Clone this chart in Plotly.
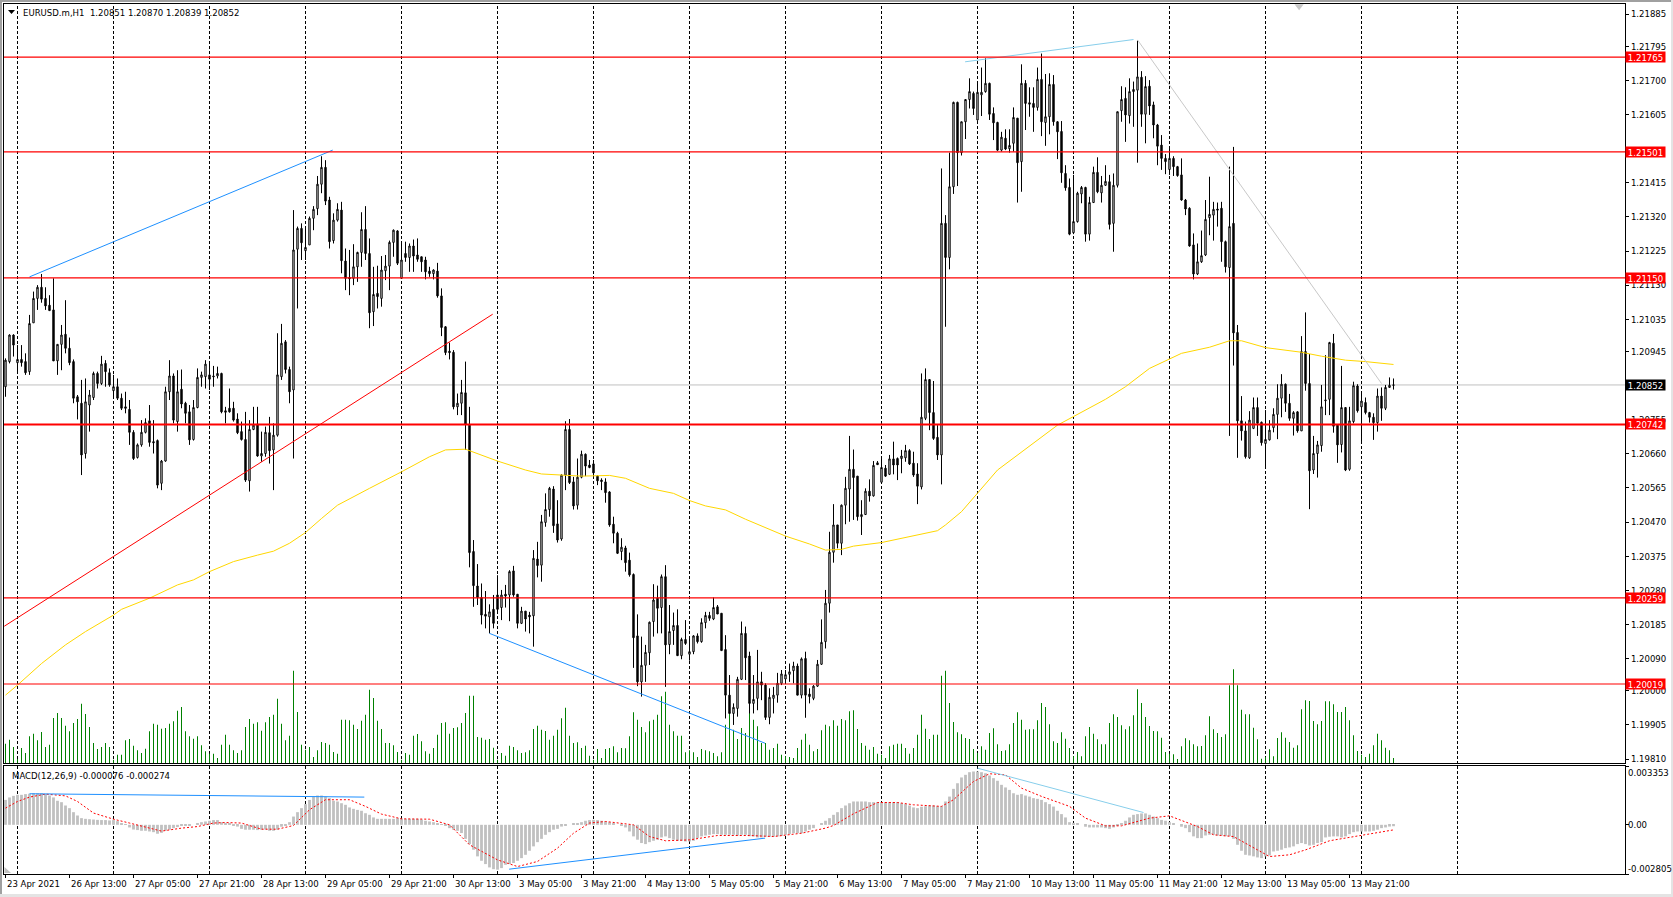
import plotly.graph_objects as go

# EURUSD.m H1 candles, prices in points (1/100000)
opens = [120847,120917,120991,120914,120923,120917,120889,121025,121093,121124,
121093,121074,121061,120919,120965,120993,120954,120917,120819,120801,
120661,120796,120817,120884,120856,120912,120886,120836,120847,120815,
120791,120784,120720,120650,120685,120720,120752,120694,120697,120578,
120640,120833,120877,120750,120840,120801,120777,120700,120789,120873,
120875,120880,120877,120877,120884,120780,120787,120787,120757,120722,
120700,120585,120728,120743,120654,120661,120719,120671,120712,120875,
120972,120895,120838,121230,121288,121226,121242,121316,121343,121411,
121458,121367,121254,121311,121339,121197,121151,121149,121181,121221,
121285,121218,121056,121107,121093,121170,121183,121249,121281,121149,
121218,121207,121239,121214,121209,121200,121169,121162,121169,121100,
121014,120946,120943,120791,120801,120830,120740,120388,120292,120260,
120213,120206,120227,120267,120232,120269,120267,120334,120269,120188,
120222,120211,120209,120367,120350,120469,120505,120562,120465,120423,
120601,120728,120582,120517,120595,120659,120629,120632,120598,120587,
120582,120554,120464,120439,120388,120398,120364,120324,120153,120025,
120071,120106,120193,120258,120232,120318,120129,120168,120182,120098,
120143,120102,120109,120153,120137,120190,120210,120200,120234,120216,
120115,119988,119937,119951,120032,120160,120097,119965,119979,120025,
120016,119926,119979,119988,120021,120033,120046,120056,120069,119988,
120090,119991,119979,120013,120074,120137,120244,120386,120462,120411,
120517,120562,120617,120598,120485,120491,120556,120543,120635,120581,
120620,120603,120646,120647,120647,120649,120669,120634,120604,120568,
120759,120867,120775,120706,120657,121302,121207,121404,121639,121499,
121585,121647,121664,121590,121660,121669,121692,121608,121583,121506,
121539,121510,121525,121595,121474,121692,121638,121636,121625,121703,
121583,121599,121689,121585,121558,121441,121402,121276,121307,121384,
121402,121272,121360,121444,121387,121408,121418,121302,121408,121616,
121650,121602,121669,121673,121709,121606,121684,121632,121576,121520,
121483,121452,121483,121460,121437,121367,121344,121242,121161,121195,
121214,121318,121325,121342,121344,121251,121179,121302,120998,120752,
120724,120649,120731,120789,120748,120689,120699,120733,120770,120815,
120854,120801,120759,120777,120724,120945,120856,120615,120661,120683,
120808,120812,120968,120740,120686,120789,120617,120750,120849,120791,
120803,120775,120762,120747,120821,120787,120845,120851]
highs = [120926,120993,120993,120963,120963,120940,121047,121112,121130,121161,
121124,121102,121149,120965,121019,121088,120984,120923,120824,120866,
120870,120838,120889,120889,120933,120921,120898,120880,120870,120828,
120833,120810,120726,120689,120754,120759,120796,120754,120700,120643,
120847,120921,120884,120893,120895,120805,120796,120810,120898,120889,
120921,120917,120905,120903,120886,120791,120842,120805,120773,120750,
120777,120754,120791,120791,120722,120736,120763,120745,120996,121022,
120977,120903,121339,121293,121302,121293,121321,121350,121434,121489,
121478,121376,121330,121358,121362,121232,121228,121244,121223,121333,
121350,121260,121181,121184,121211,121214,121254,121285,121283,121246,
121251,121246,121257,121260,121209,121209,121181,121174,121192,121121,
121016,120970,120949,120828,120866,120917,120791,120420,120353,120299,
120278,120241,120267,120322,120281,120295,120336,120348,120269,120234,
120222,120220,120392,120415,120490,120550,120568,120570,120531,120603,
120751,120757,120596,120647,120669,120661,120643,120643,120601,120592,
120592,120556,120485,120443,120425,120404,120385,120327,120213,120151,
120128,120193,120297,120293,120324,120350,120239,120218,120227,120148,
120197,120146,120155,120160,120202,120220,120220,120260,120239,120216,
120155,120044,119965,120039,120193,120179,120109,120044,120114,120053,
120021,120007,120011,120050,120058,120058,120076,120081,120076,120093,
120109,120007,120016,120086,120199,120281,120443,120520,120462,120519,
120596,120710,120672,120598,120531,120564,120589,120640,120640,120646,
120629,120657,120694,120650,120671,120685,120673,120666,120634,120884,
120898,120867,120863,120740,121455,121325,121499,121641,121641,121585,
121647,121706,121669,121694,121736,121762,121694,121625,121585,121557,
121564,121564,121625,121595,121745,121701,121681,121681,121736,121775,
121718,121720,121715,121587,121587,121464,121427,121437,121390,121406,
121404,121376,121460,121486,121434,121464,121437,121441,121613,121684,
121681,121706,121697,121811,121726,121712,121701,121641,121579,121548,
121495,121511,121489,121462,121483,121370,121347,121274,121246,121282,
121367,121432,121362,121360,121362,121254,121460,121515,121019,120821,
120750,120779,120817,120817,120750,120782,120754,120787,120854,120882,
120856,120827,120779,120779,120988,121054,120938,120710,120696,120852,
120935,120972,120994,120740,120905,120789,120791,120861,120854,120828,
120817,120777,120773,120842,120845,120852,120873,120870]
lows = [120819,120912,120931,120884,120903,120880,120880,121025,121061,121081,
121061,121059,120919,120880,120893,120940,120907,120801,120756,120601,
120647,120722,120810,120842,120852,120847,120847,120815,120810,120782,
120773,120685,120643,120647,120680,120717,120680,120661,120564,120559,
120638,120810,120745,120722,120787,120745,120685,120697,120787,120847,
120842,120838,120847,120870,120773,120745,120775,120750,120715,120697,
120582,120555,120726,120652,120638,120652,120633,120559,120708,120866,
120884,120801,120647,121065,121200,121200,121242,121283,121325,121386,
121353,121232,121246,121307,121163,121116,121102,121130,121139,121181,
121200,121010,121016,121065,121070,121144,121116,121209,121186,121149,
121195,121167,121167,121195,121167,121146,121153,121146,121095,120988,
120935,120923,120784,120768,120768,120671,120344,120234,120239,120185,
120174,120160,120174,120216,120197,120232,120194,120262,120174,120186,
120165,120160,120123,120316,120304,120457,120485,120440,120413,120418,
120559,120576,120505,120505,120592,120598,120620,120596,120573,120559,
120524,120457,120411,120381,120364,120332,120318,120064,120013,119984,
120025,120072,120151,120160,120160,120011,120102,120128,120097,120088,
120128,120084,120102,120132,120134,120174,120195,120197,120214,120112,
119923,119937,119905,119928,120030,120030,119937,119937,119946,119974,
119919,119907,119937,119967,120016,120023,120025,120021,119988,119979,
119925,119965,119974,120011,120072,120118,120218,120357,120397,120378,
120464,120471,120476,120474,120434,120490,120527,120541,120629,120578,
120596,120601,120603,120587,120606,120638,120629,120596,120520,120561,
120754,120726,120699,120643,120575,121014,121174,121384,121406,121491,
121537,121622,121604,121588,121601,121666,121590,121534,121504,121502,
121506,121499,121502,121360,121390,121562,121599,121557,121616,121545,
121518,121550,121574,121481,121415,121393,121269,121272,121304,121358,
121251,121254,121359,121386,121360,121406,121285,121223,121402,121585,
121529,121580,121571,121471,121571,121525,121604,121539,121464,121451,
121439,121437,121434,121432,121365,121325,121237,121146,121158,121192,
121211,121269,121254,121293,121195,121165,120710,120906,120649,120697,
120647,120646,120729,120710,120683,120618,120697,120720,120701,120762,
120777,120752,120711,120719,120724,120836,120506,120604,120594,120666,
120768,120768,120719,120635,120664,120612,120613,120745,120775,120689,
120770,120747,120699,120722,120752,120782,120845,120839]
closes = [120921,120991,120963,120923,120914,120886,121023,121093,121124,121091,
121072,121059,120919,120965,120991,120954,120914,120815,120805,120657,
120805,120824,120884,120856,120910,120889,120852,120847,120815,120787,
120787,120720,120647,120685,120720,120747,120692,120691,120573,120640,
120833,120877,120754,120833,120799,120773,120699,120789,120873,120880,
120910,120868,120875,120884,120777,120776,120777,120754,120719,120700,
120587,120728,120740,120654,120661,120720,120669,120712,120880,120968,
120895,120833,121228,121288,121248,121235,121316,121341,121411,121458,
121364,121251,121311,121341,121198,121149,121148,121181,121221,121285,
121218,121053,121104,121098,121172,121183,121249,121283,121191,121200,
121207,121239,121211,121202,121195,121167,121162,121172,121100,121012,
120942,120942,120791,120801,120831,120743,120385,120293,120260,120211,
120208,120220,120188,120227,120267,120264,120332,120267,120188,120222,
120200,120206,120369,120349,120471,120505,120564,120460,120420,120601,
120728,120580,120515,120595,120659,120626,120622,120607,120585,120583,
120552,120462,120439,120383,120400,120357,120323,120148,120025,120071,
120107,120191,120253,120230,120318,120128,120165,120182,120098,120143,
120132,120109,120153,120137,120190,120210,120202,120232,120214,120112,
119988,119937,119954,120032,120160,120092,119965,119976,120025,120016,
119926,119982,119988,120021,120047,120045,120053,120069,119988,120089,
119988,119984,120013,120074,120135,120244,120386,120462,120411,120517,
120564,120617,120594,120485,120491,120556,120543,120628,120630,120622,
120598,120646,120629,120629,120654,120669,120632,120601,120570,120762,
120867,120775,120703,120657,121302,121207,121404,121639,121499,121585,
121647,121669,121622,121667,121667,121692,121606,121582,121506,121542,
121509,121519,121597,121471,121692,121636,121634,121625,121703,121585,
121599,121689,121585,121557,121443,121401,121272,121307,121386,121402,
121272,121360,121444,121390,121408,121419,121299,121408,121613,121647,
121604,121669,121675,121710,121606,121683,121629,121576,121517,121483,
121474,121483,121460,121435,121367,121342,121239,121161,121195,121212,
121313,121327,121341,121339,121251,121181,121293,120997,120752,120724,
120652,120754,120789,120745,120691,120700,120726,120770,120815,120854,
120801,120759,120775,120724,120945,120856,120613,120661,120685,120791,
120810,120970,120737,120685,120789,120615,120752,120850,120780,120807,
120775,120762,120747,120821,120787,120845,120851,120852]

# tick volume
volumes = [58,70,48,12,45,30,80,88,68,93,48,55,135,150,135,112,95,120,132,178,
147,108,60,42,48,60,48,10,25,25,68,72,52,38,30,43,95,118,115,103,
105,118,125,157,168,95,80,73,80,53,35,28,28,15,55,85,55,38,30,38,
108,132,118,122,97,122,138,145,193,118,68,82,277,153,55,40,48,18,38,63,
60,55,33,28,130,130,128,115,102,127,145,220,195,127,102,60,60,53,33,10,
30,25,82,87,65,35,28,45,85,120,122,88,105,107,120,150,202,202,78,76,
70,72,46,10,30,22,52,48,38,30,32,38,102,112,100,96,70,82,100,134,
166,82,60,62,45,52,22,10,42,15,42,45,50,32,45,44,80,152,130,108,
92,125,130,145,200,214,115,95,82,82,32,38,32,18,42,38,35,30,20,32,
115,150,100,72,105,90,160,130,110,60,60,40,45,58,25,20,18,15,45,70,
88,55,35,42,98,115,110,128,112,132,128,155,158,102,60,52,40,48,28,25,
15,50,55,58,58,45,28,45,85,145,103,72,85,85,262,277,180,123,92,86,
75,72,42,30,50,40,90,104,56,36,38,56,120,152,130,100,101,101,128,180,
168,116,65,60,92,73,45,20,33,20,80,108,88,71,56,56,120,146,138,113,
101,110,143,221,180,138,111,96,95,76,33,28,26,12,50,74,68,56,50,51,
83,140,101,90,78,86,233,281,233,160,146,146,106,71,13,18,41,20,75,92,
76,63,46,53,161,188,186,126,116,126,185,185,176,153,153,168,128,83,36,25,
18,28,53,88,68,46,38,15]

# MACD histogram, in 0.00001
macd_hist = [142,156,165,171,171,175,177,180,180,180,175,167,156,137,129,110,95,72,53,38,
34,32,30,28,27,27,25,27,21,10,2,-15,-27,-30,-34,-34,-38,-42,-51,-46,
-34,-28,-19,-13,-6,-6,-4,0,10,15,19,23,27,27,15,11,6,-2,-10,-23,
-28,-28,-28,-30,-28,-27,-34,-34,-28,-11,-4,15,47,72,95,118,142,161,167,167,
161,152,137,133,123,114,99,91,85,80,66,57,42,34,34,34,34,34,38,34,
34,34,34,34,30,23,19,15,10,4,-6,-19,-28,-34,-47,-80,-110,-142,-180,-205,
-224,-243,-253,-256,-247,-228,-224,-218,-205,-190,-171,-148,-123,-99,-80,-57,-42,-28,-23,-10,
-4,0,6,10,15,23,27,28,27,23,19,15,6,0,-4,-15,-38,-66,-85,-104,
-110,-99,-91,-85,-72,-66,-76,-85,-91,-91,-95,-95,-91,-76,-66,-61,-57,-53,-53,-57,
-57,-57,-57,-61,-57,-57,-65,-66,-72,-72,-68,-68,-68,-66,-63,-57,-53,-48,-48,-48,
-38,-28,-19,0,10,23,38,57,72,95,110,123,133,133,133,133,129,129,129,129,
129,129,129,129,123,118,110,99,95,103,106,110,110,106,106,133,161,205,237,270,
285,300,304,304,300,294,281,266,251,228,213,199,180,171,175,167,161,152,148,142,
129,118,104,80,61,42,15,11,6,0,-11,-15,-15,-15,-15,-19,-23,-15,-4,10,
23,42,57,61,65,65,57,47,38,28,23,15,8,0,-11,-19,-42,-66,-76,-76,
-61,-57,-57,-61,-61,-65,-65,-80,-114,-148,-171,-175,-180,-186,-190,-180,-175,-152,-148,-142,
-133,-129,-123,-110,-104,-110,-118,-114,-104,-99,-72,-68,-66,-66,-72,-66,-53,-42,-38,-38,
-38,-38,-34,-28,-19,-15,-10,-8]

# MACD signal, read at these bars
signal_bars = [1,4,7,11,16,19,23,28,32,40,45,49,53,56,60,65,69,73,77,81,87,91,95,100,107,112,117,124,129,134,
139,143,147,151,158,162,166,172,179,187,193,200,206,208,213,219,224,228,235,238,243,247,251,255,260,267,
271,276,280,287,292,299,303,308,314,317,322,326,332,338,343,348]
signal_vals = [95,133,158,175,165,133,67,32,10,-36,-19,-10,10,13,10,-25,-25,-4,86,143,143,105,61,34,32,0,-114,-200,-238,-209,
-133,-48,10,19,0,-67,-91,-86,-61,-61,-67,-48,-19,-4,63,127,127,114,105,143,247,291,285,209,162,105,
38,-6,-6,38,51,-10,-57,-67,-143,-181,-171,-143,-91,-67,-48,-29]

# 200 period moving average, read at these bars
ma_bars = [1,4,10,16,21,28,30,37,44,48,52,58,64,68,72,76,80,84,92,94,100,107,111,116,117,124,131,135,145,152,156,162,
168,172,176,181,186,190,196,202,206,210,213,220,230,234,236,240,249,264,276,281,287,295,302,307,310,316,325,330,336,341,348]
ma_vals = [119988,120016,120076,120128,120165,120211,120227,120258,120295,120309,120332,120360,120378,120389,120411,120441,
120480,120517,120564,120575,120610,120652,120671,120673,120669,120640,120615,120604,120598,120600,120592,120564,
120550,120530,120515,120504,120478,120460,120431,120409,120392,120394,120403,120413,120437,120446,120462,120499,
120615,120740,120812,120847,120898,120940,120957,120975,120975,120956,120943,120932,120921,120917,120909]

level_prices = [1.21765, 1.21501, 1.21150, 1.20742, 1.20259, 1.20019]
level_widths = [1.2, 1.2, 1.2, 2, 1.2, 1.2]
bid_price = 1.20852

price_ticks = [1.21885,1.21795,1.21700,1.21605,1.21415,1.21320,1.21225,1.21130,1.21035,1.20945,1.20755,
               1.20660,1.20565,1.20470,1.20375,1.20280,1.20185,1.20090,1.20000,1.19905,1.19810]
macd_ticks = [0.003353, 0.0, -0.002805]
macd_tick_text = ["0.003353", "0.00", "-0.002805"]

tick_bars = [1,17,33,49,65,81,97,113,129,145,161,177,193,209,225,241,257,273,289,305,321,337]
tick_labels = ["23 Apr 2021","26 Apr 13:00","27 Apr 05:00","27 Apr 21:00","28 Apr 13:00","29 Apr 05:00",
               "29 Apr 21:00","30 Apr 13:00","3 May 05:00","3 May 21:00","4 May 13:00","5 May 05:00",
               "5 May 21:00","6 May 13:00","7 May 05:00","7 May 21:00","10 May 13:00","11 May 05:00",
               "11 May 21:00","12 May 13:00","13 May 05:00","13 May 21:00"]
separator_bars = [4,28,52,76,100,124,148,172,196,220,244,268,292,316,340,364]

# trend lines on the price pane: bars, prices in points, colour
price_lines = [
    ([7, 82.8], [121153, 121506], "#1E90FF"),
    ([0.7, 122.8], [120180, 121049], "#FF0000"),
    ([122, 190.9], [120160, 119854], "#1E90FF"),
    ([240.9, 283], [121752, 121814], "#87CEEB"),
    ([284, 345], [121813, 120856], "#C8C8C8"),
]
# trend lines on the MACD pane
macd_lines = [
    ([7, 90.7], [177, 158], "#1E90FF"),
    ([126.9, 190.9], [-253, -76], "#1E90FF"),
    ([244, 285.5], [323, 70], "#87CEEB"),
]

W, H = 1673, 897
LEFT, RIGHT, TOP, BOTTOM = 4, 1625, 4, 874
FONT = "DejaVu Sans Condensed, Liberation Sans, Arial"
FSIZE = 9.5
bars = list(range(1, len(closes) + 1))
x_range = [0.625, 0.625 + (RIGHT - LEFT) / 4]


def px_x(x):
    return (x - LEFT) / (RIGHT - LEFT)


def px_y(y):
    return (BOTTOM - y) / (BOTTOM - TOP)


def pts(values):
    return [v / 100000 for v in values]


fig = go.Figure()

fig.add_trace(go.Bar(x=bars, y=volumes, width=0.25, marker=dict(color="rgba(0,128,0,0.999)", line=dict(width=0)),
                     xaxis="x", yaxis="y", hoverinfo="skip"))
fig.add_trace(go.Candlestick(x=bars, open=pts(opens), high=pts(highs), low=pts(lows), close=pts(closes),
                             xaxis="x", yaxis="y2", whiskerwidth=0,
                             increasing=dict(fillcolor="#FFFFFF", line=dict(color="#000000", width=1)),
                             decreasing=dict(fillcolor="#000000", line=dict(color="#000000", width=1))))
fig.add_trace(go.Scatter(x=ma_bars, y=pts(ma_vals), mode="lines", line=dict(color="#FFD700", width=1),
                         xaxis="x", yaxis="y2", hoverinfo="skip"))
for px_, pv, col in price_lines:
    fig.add_trace(go.Scatter(x=px_, y=pts(pv), mode="lines", line=dict(color=col, width=1),
                             xaxis="x", yaxis="y2", hoverinfo="skip"))
for lvl, lw in zip(level_prices, level_widths):
    fig.add_trace(go.Scatter(x=x_range, y=[lvl, lvl], mode="lines", line=dict(color="#FF0000", width=lw),
                             xaxis="x", yaxis="y2", hoverinfo="skip"))
fig.add_trace(go.Scatter(x=[324.4], y=[1.21907], mode="markers", cliponaxis=False,
                         marker=dict(symbol="triangle-down", size=8, color="#C8C8C8"),
                         xaxis="x", yaxis="y2", hoverinfo="skip"))

fig.add_trace(go.Bar(x=bars, y=pts(macd_hist), width=0.7, marker=dict(color="#C0C0C0", line=dict(width=0)),
                     xaxis="x2", yaxis="y3", hoverinfo="skip"))
fig.add_trace(go.Scatter(x=signal_bars, y=pts(signal_vals), mode="lines",
                         line=dict(color="#FF0000", width=1, dash="2px,2px"),
                         xaxis="x2", yaxis="y3", hoverinfo="skip"))
for px_, pv, col in macd_lines:
    fig.add_trace(go.Scatter(x=px_, y=pts(pv), mode="lines", line=dict(color=col, width=1),
                             xaxis="x2", yaxis="y3", hoverinfo="skip"))

shapes = []
for b in separator_bars:
    shapes.append(dict(type="line", xref="x", yref="paper", x0=b, x1=b, y0=0, y1=1, layer="below",
                       line=dict(color="#000000", width=1, dash="3px,2px")))
shapes.append(dict(type="line", xref="x", yref="y2", x0=x_range[0], x1=x_range[1], y0=bid_price, y1=bid_price,
                   layer="below", line=dict(color="#C0C0C0", width=1)))
# window edge
for x0, x1, y0, y1, col in [(0, W, 0, 2, "#A0A0A0"), (0, 2, 0, H, "#A0A0A0"),
                            (1671, W, 0, H, "#E4E4E4"), (0, W, 894, H, "#E4E4E4")]:
    shapes.append(dict(type="rect", xref="paper", yref="paper", x0=px_x(x0), x1=px_x(x1), y0=px_y(y0), y1=px_y(y1),
                       fillcolor=col, line=dict(width=0), layer="above"))
# chart menu triangle, and the histogram wedge in the pane corner
shapes.append(dict(type="path", xref="paper", yref="paper", fillcolor="#000000", line=dict(width=0),
                   path=f"M{px_x(8)},{px_y(10)} L{px_x(15)},{px_y(10)} L{px_x(11.5)},{px_y(14)} Z"))
shapes.append(dict(type="path", xref="paper", yref="paper", fillcolor="#C0C0C0", line=dict(width=0),
                   path=f"M{px_x(4.5)},{px_y(867)} L{px_x(11)},{px_y(873)} L{px_x(4.5)},{px_y(873)} Z"))

annotations = []


def text_at(x, y, text, color="#000000", **kw):
    annotations.append(dict(x=px_x(x), y=px_y(y), xref="paper", yref="paper", text=text, showarrow=False,
                            xanchor="left", yanchor="middle", font=dict(family=FONT, size=FSIZE, color=color), **kw))


text_at(20.5, 12, "EURUSD.m,H1  1.20851 1.20870 1.20839 1.20852")
text_at(9.5, 775, "MACD(12,26,9) -0.000076 -0.000274")

for b, lab in zip(tick_bars, tick_labels):
    annotations.append(dict(x=b, y=px_y(883.5), xref="x2", yref="paper", text=lab, showarrow=False, xanchor="left",
                            yanchor="middle", xshift=-1, font=dict(family=FONT, size=FSIZE, color="#000000")))

for val, lab, dy in zip(macd_ticks, macd_tick_text, [6, 0, -6]):
    annotations.append(dict(x=1, y=val, xref="paper", yref="y3", text=lab, showarrow=False, xanchor="left",
                            yanchor="middle", xshift=1, yshift=-dy, font=dict(family=FONT, size=FSIZE, color="#000000")))

for lvl in level_prices + [bid_price]:
    annotations.append(dict(x=1, y=lvl, xref="paper", yref="y2", text=f"{lvl:.5f}", showarrow=False, xanchor="left",
                            yanchor="middle", xshift=0, width=39, height=10, align="center", borderpad=0,
                            bgcolor="#000000" if lvl == bid_price else "#FF0000",
                            font=dict(family=FONT, size=FSIZE, color="#FFFFFF")))

main_dom = [px_y(763), 1]
macd_dom = [0, px_y(766)]
frame = dict(showline=True, linecolor="#000000", linewidth=1, mirror=True, showgrid=False, zeroline=False)

fig.update_layout(
    width=W, height=H,
    margin=dict(l=LEFT, r=W - RIGHT, t=TOP, b=H - BOTTOM, pad=0),
    paper_bgcolor="#FFFFFF", plot_bgcolor="#FFFFFF",
    showlegend=False, barmode="overlay", boxgap=0.5, hovermode=False,
    shapes=shapes, annotations=annotations,
    xaxis=dict(domain=[0, 1], range=x_range, anchor="y2", showticklabels=False, ticks="",
               rangeslider=dict(visible=False), **frame),
    xaxis2=dict(domain=[0, 1], range=x_range, anchor="y3", tickmode="array", tickvals=tick_bars,
                showticklabels=False, ticks="outside", ticklen=3, tickcolor="#000000", **frame),
    yaxis=dict(domain=main_dom, range=[0, 2276], visible=False, fixedrange=True),
    yaxis2=dict(domain=main_dom, range=[1.19799, 1.21913], overlaying="y", side="right", anchor="x",
                tickmode="array", tickvals=price_ticks, ticktext=[f"{t:.5f}" for t in price_ticks],
                ticks="outside", ticklen=3, tickcolor="#000000",
                tickfont=dict(family=FONT, size=FSIZE, color="#000000"), **frame),
    yaxis3=dict(domain=macd_dom, range=[macd_ticks[2], macd_ticks[0]], side="right", anchor="x2",
                tickmode="array", tickvals=macd_ticks, showticklabels=False,
                ticks="outside", ticklen=3, tickcolor="#000000", **frame),
)

fig.write_html("out.html", config=dict(displayModeBar=False),
               post_script="document.body.style.margin='0';document.body.style.overflow='hidden';")
